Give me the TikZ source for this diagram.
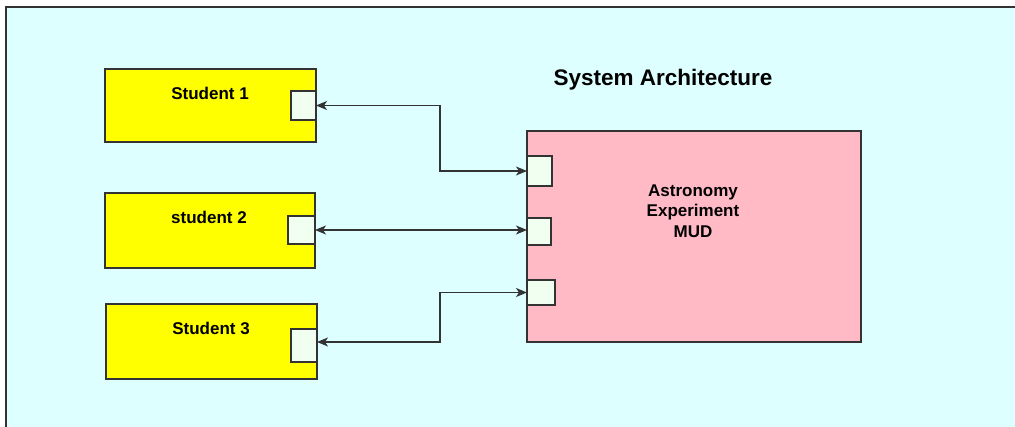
\documentclass[tikz,border=0pt]{standalone}
\usepackage{fontspec}
\setmainfont{Liberation Sans}
\usetikzlibrary{arrows.meta}

\definecolor{panelbg}{HTML}{DDFFFF}
\definecolor{edge}{HTML}{333333}
\definecolor{studentfill}{HTML}{FFFF00}
\definecolor{mudfill}{HTML}{FFBAC6}
\definecolor{portfill}{HTML}{F0FFF0}

\tikzset{
  box/.style={draw=edge, line width=1.2pt, rectangle, inner sep=0pt, outer sep=0pt, anchor=north west},
  studentbox/.style={box, fill=studentfill},
  mudbox/.style={box, fill=mudfill},
  port/.style={box, fill=portfill},
  lbl/.style={font=\fontsize{17}{20.5}\selectfont\bfseries, align=center, inner sep=0pt},
  titlelbl/.style={font=\fontsize{22.5}{27}\selectfont\bfseries, inner sep=0pt},
  link/.style={draw=edge, line width=1.4pt, {Stealth[length=11pt,width=9pt,inset=3pt]}-{Stealth[length=11pt,width=9pt,inset=3pt]}},
}

\begin{document}
\begin{tikzpicture}[x=1pt, y=-1pt]
  \useasboundingbox (0,0) rectangle (1015,427);
  \fill[white] (0,0) rectangle (1015,427);

  % panel
  \fill[panelbg] (6,7) rectangle (1020,432);
  \draw[edge, line width=1.4pt] (6,432) -- (6,7) -- (1020,7);

  % student components
  \node[studentbox, minimum width=211pt, minimum height=73pt] (s1) at (105,69) {};
  \node[port, minimum width=25pt, minimum height=29pt] (s1p) at (291,91) {};
  \node[lbl] (s1l) at (210,93) {Student 1};

  \node[studentbox, minimum width=210pt, minimum height=75pt] (s2) at (105,193) {};
  \node[port, minimum width=27pt, minimum height=28pt] (s2p) at (288,216) {};
  \node[lbl] (s2l) at (209,217) {student 2};

  \node[studentbox, minimum width=211pt, minimum height=75pt] (s3) at (106,304) {};
  \node[port, minimum width=26pt, minimum height=33pt] (s3p) at (291,329) {};
  \node[lbl] (s3l) at (211,328) {Student 3};

  % server component
  \node[mudbox, minimum width=334pt, minimum height=211pt] (mud) at (527,131) {};
  \node[port, minimum width=25pt, minimum height=30pt] (m1) at (527,156) {};
  \node[port, minimum width=24pt, minimum height=27pt] (m2) at (527,218) {};
  \node[port, minimum width=28pt, minimum height=25pt] (m3) at (527,280) {};
  \node[lbl] (mudl) at (693,211) {Astronomy\\Experiment\\MUD};

  \node[titlelbl] (title) at (663,80) {System Architecture};

  % connections
  \coordinate (bend) at (440,0);
  \coordinate (s3in) at ([yshift=3.5pt]s3p.east);
  \draw[link] (s1p.east) -- (s1p.east -| bend) |- (m1.west);
  \draw[link] (s2p.east) -- (s2p.east -| m2.west);
  \draw[link] (s3in) -- (s3in -| bend) |- (m3.west);
\end{tikzpicture}
\end{document}
